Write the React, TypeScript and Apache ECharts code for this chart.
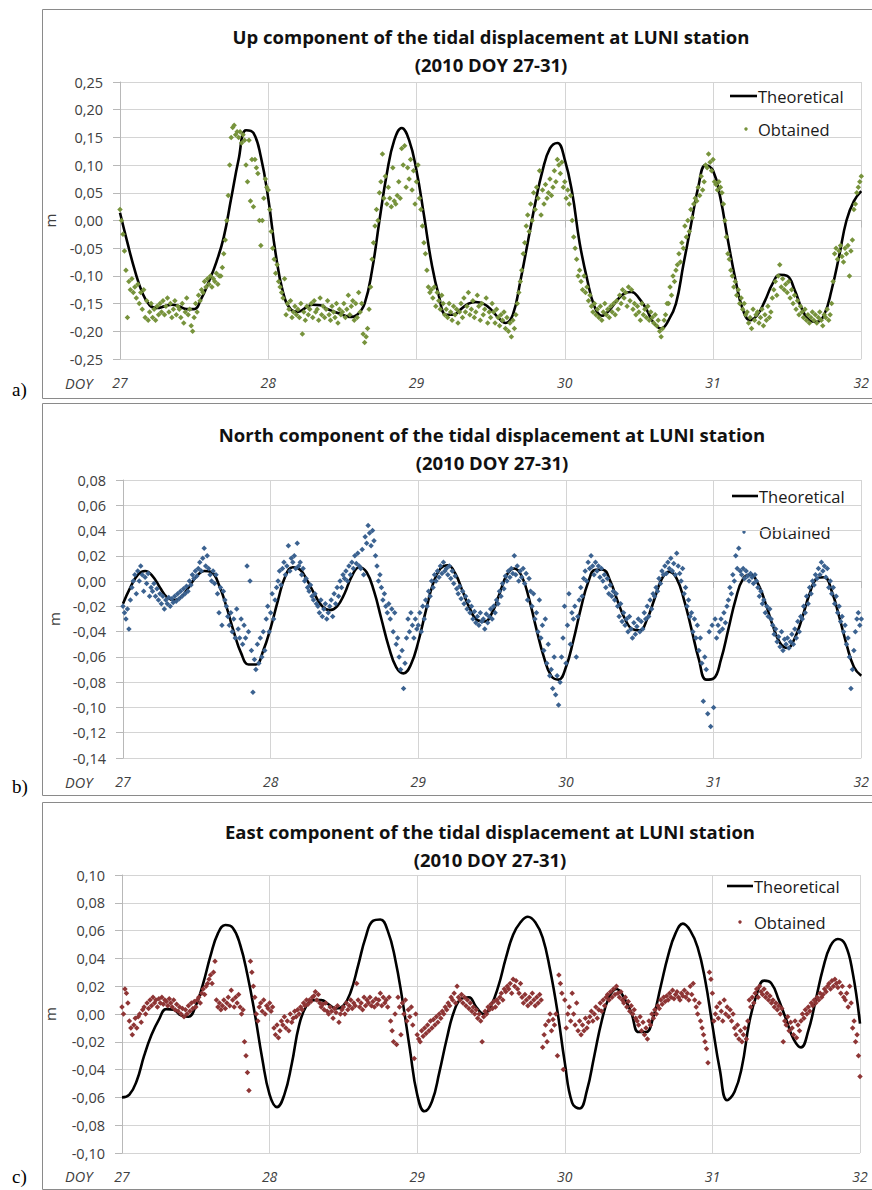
import React, { useEffect, useRef } from 'react';
import * as echarts from 'echarts';

// ---------------- DATA ----------------
const START_DAY = 27;
const DAY_TICKS = [27, 28, 29, 30, 31, 32];
const SUBTITLE = '(2010 DOY 27-31)';
const THEO_STEP = 0.05; // theoretical curve sampled every 0.05 day (m)
const OBT_STEP = 0.01; // obtained values every 0.01 day (mm)

const UP_THEORETICAL = [
  0.014, -0.04, -0.09, -0.13, -0.153, -0.158, -0.155, -0.152, -0.155, -0.16,
  -0.16, -0.14, -0.11, -0.075, -0.03, 0.04, 0.11, 0.163, 0.158, 0.115,
  0.04, -0.06, -0.13, -0.16, -0.165, -0.158, -0.152, -0.153, -0.16, -0.165,
  -0.17, -0.174, -0.17, -0.15, -0.09, 0.0, 0.085, 0.145, 0.167, 0.145,
  0.09, 0.01, -0.075, -0.135, -0.17, -0.17, -0.16, -0.15, -0.147, -0.15,
  -0.16, -0.175, -0.185, -0.17, -0.11, -0.04, 0.03, 0.09, 0.13, 0.14,
  0.11, 0.05, -0.04, -0.105, -0.155, -0.172, -0.162, -0.145, -0.132, -0.129,
  -0.14, -0.16, -0.185, -0.195, -0.18, -0.15, -0.08, -0.01, 0.06, 0.1,
  0.09, 0.04, -0.035, -0.105, -0.16, -0.18, -0.17, -0.145, -0.115, -0.098,
  -0.1, -0.125, -0.16, -0.18, -0.183, -0.17, -0.125, -0.065, 0.0, 0.035,
  0.053,
];

const UP_OBTAINED_MM = [
  20, 0, -25, -55, -90, -175, -110, -125, -105, -130,
  -120, -140, -115, -150, -130, -160, -125, -175, -145, -180,
  -165, -150, -175, -160, -180, -155, -170, -150, -165, -145,
  -170, -155, -140, -165, -150, -175, -160, -145, -170, -155,
  -160, -175, -150, -185, -165, -140, -170, -160, -190, -200,
  -175, -150, -165, -135, -145, -125, -130, -110, -120, -105,
  -115, -100, -120, -105, -110, -95, -115, -100, -100, -85,
  -60, -35, 0, 45, 100, 150, 168, 172, 155, 160,
  150, 160, 140, 155, 145, 100, 70, 145, 35, 110,
  25, 110, 95, 85, 0, -45, 0, 40, 75, 60,
  55, 20, -20, -50, -70, -95, -80, -110, -120, -130,
  -140, -105, -170, -150, -160, -145, -175, -165, -155, -170,
  -160, -175, -150, -205, -165, -180, -155, -170, -160, -150,
  -175, -145, -165, -160, -180, -140, -170, -155, -175, -160,
  -145, -170, -180, -155, -165, -175, -150, -185, -160, -170,
  -165, -150, -175, -160, -135, -170, -155, -145, -180, -150,
  -175, -130, -165, -150, -205, -220, -210, -195, -160, -120,
  -70, -40, -10, 20, 0, 50, 70, 120, 40, 80,
  30, 60, 40, 25, 95, 35, 30, 45, 70, 40,
  130, 100, 135, 60, 95, 75, 110, 55, 90, 30,
  70, 100, 40, 20, -10, -40, -60, -90, -120, -130,
  -125, -140, -120, -155, -130, -145, -160, -135, -150, -170,
  -160, -175, -150, -165, -180, -155, -170, -160, -185, -165,
  -150, -175, -140, -165, -155, -130, -170, -160, -145, -175,
  -165, -135, -155, -180, -150, -170, -160, -140, -185, -165,
  -175, -150, -165, -185, -160, -175, -190, -170, -180, -165,
  -195, -175, -200, -185, -210, -180, -195, -170, -150, -130,
  -110, -90, -60, -40, -10, 10, -20, 30, 0, 50,
  20, 60, 40, 90, 10, 55, 30, 65, 40, 50,
  75, 45, 60, 90, 70, 110, 100, 85, 105, 60,
  70, 40, 55, 30, 45, 0, -30, -50, -70, -100,
  -90, -110, -125, -100, -130, -120, -145, -135, -155, -165,
  -150, -170, -160, -175, -155, -180, -165, -150, -170, -160,
  -175, -155, -165, -150, -170, -145, -160, -135, -150, -125,
  -140, -130, -155, -120, -145, -125, -160, -150, -170, -155,
  -165, -180, -150, -170, -160, -175, -155, -180, -165, -175,
  -185, -170, -190, -180, -200, -210, -195, -180, -170, -150,
  -150, -120, -135, -100, -110, -90, -80, -60, -75, -40,
  -50, -10, -30, 0, -20, 20, 5, 30, 40, 35,
  60, 45, 80, 55, 70, 100, 95, 120, 105, 90,
  110, 70, 65, 55, 70, 60, 50, 30, 0, -30,
  -60, -70, -90, -100, -120, -110, -135, -125, -150, -140,
  -160, -150, -170, -165, -185, -175, -195, -160, -180, -170,
  -165, -185, -175, -160, -190, -170, -180, -155, -175, -165,
  -140, -125, -110, -135, -100, -80, -120, -105, -125, -115,
  -130, -110, -140, -125, -150, -135, -160, -145, -170, -155,
  -165, -175, -160, -180, -170, -185, -175, -165, -180, -170,
  -185, -175, -165, -180, -190, -170, -175, -160, -180, -170,
  -150, -110, -60, -50, -70, -55, -45, -65, -75, -50,
  -60, -45, -100, -55, -35, 20, 30, 50, 60, 70,
  80,
];

const NORTH_THEORETICAL = [
  -0.018, -0.005, 0.005, 0.008, 0.004, -0.005, -0.013, -0.015, -0.012, -0.004,
  0.004, 0.008, 0.007, -0.003, -0.02, -0.04, -0.057, -0.066, -0.066, -0.055,
  -0.037, -0.015, 0.004, 0.011, 0.009, 0.0, -0.011, -0.02, -0.023, -0.02,
  -0.01, 0.004, 0.011, 0.007, -0.008, -0.03, -0.052, -0.068, -0.073, -0.066,
  -0.048, -0.024, -0.002, 0.01, 0.0125, 0.006, -0.008, -0.022, -0.031, -0.032,
  -0.025, -0.01, 0.005, 0.01, 0.004, -0.014, -0.038, -0.06, -0.075, -0.078,
  -0.068, -0.047, -0.022, -0.001, 0.009, 0.009, 0.0, -0.016, -0.03, -0.038,
  -0.039, -0.03, -0.014, 0.002, 0.0075, 0.002, -0.015, -0.038, -0.062, -0.078,
  -0.077, -0.062, -0.038, -0.014, 0.002, 0.005, -0.002, -0.017, -0.035, -0.049,
  -0.053, -0.045, -0.029, -0.01, 0.002, 0.003, -0.008, -0.028, -0.05, -0.068,
  -0.075,
];

const NORTH_OBTAINED_MM = [
  -20, -25, -30, -22, -38, -15, -5, 0, 5, -10,
  8, 0, 12, 5, -8, 3, -2, 6, -12, -5,
  -8, -2, -12, -6, -15, -10, -18, -12, -22, -15,
  -18, -13, -20, -14, -17, -12, -16, -10, -14, -8,
  -12, -6, -10, -4, -8, 0, -3, 5, 2, 8,
  4, 10, 15, 8, 18, 26, 12, 20, 10, 5,
  0, 8, -2, 5, -10, -25, -5, -35, -8, -15,
  -20, -28, -35, -25, -40, -30, -45, -22, -38, -45,
  -30, -50, -35, -45, 12, -40, 0, -55, -88, -62,
  -70, -50, -65, -45, -60, -40, -55, -30, -20, -40,
  -25, -10, -30, -15, -5, 0, 8, -3, 10, 15,
  5, 12, 28, 8, 18, 15, 20, 10, 30, 12,
  15, 5, 10, 0, 2, -5, -8, -3, -12, -15,
  -10, -18, -20, -25, -15, -28, -22, -18, -30, -25,
  -20, -15, -28, -10, -18, -5, -12, 0, -5, 5,
  2, 8, 0, 12, 5, 15, 10, 20, 14, 22,
  12, 10, 25, 5, 35, 30, 44, 38, 28, 40,
  32, 20, 12, 0, 5, -5, -15, -10, -20, -25,
  -18, -30, -22, -40, -25, -50, -45, -60, -70, -55,
  -85, -65, -45, -30, -40, -25, -35, -45, -30, -38,
  -35, -25, -40, -20, -30, -15, -20, -8, -12, 0,
  -5, 5, 0, 8, 3, 12, 6, 15, 8, 10,
  5, 12, 2, 8, -2, 4, -6, -10, -4, -14,
  -8, -18, -12, -22, -16, -25, -20, -30, -24, -33,
  -28, -35, -25, -32, -30, -38, -26, -33, -28, -22,
  -30, -20, -25, -15, -18, -8, -12, -2, -6, 4,
  0, 8, 3, 10, 6, 20, 5, 12, 0, 8,
  3, 10, -2, 6, -15, 2, -8, -20, -10, -30,
  -25, -40, -15, -45, -35, -55, -30, -65, -50, -75,
  -70, -85, -60, -90, -75, -98, -80, -60, -45, -20,
  -65, -35, -10, -50, -25, -30, -20, -60, -28, -15,
  -5, -12, 2, 8, 0, 15, 10, 20, 12, 5,
  15, 8, 12, 3, 10, 0, 5, -5, 2, -10,
  -3, -12, -8, -15, -10, -20, -28, -18, -32, -25,
  -35, -30, -40, -28, -38, -45, -33, -42, -36, -30,
  -40, -32, -38, -25, -30, -20, -28, -15, -22, -10,
  -12, -5, -8, 2, -2, 8, 5, 12, 6, 15,
  10, 18, 8, 14, 5, 22, 12, 6, 0, 10,
  -10, -5, -20, -15, -28, -25, -40, -30, -45, -35,
  -55, -45, -65, -95, -60, -70, -105, -40, -115, -35,
  -100, -30, -45, -35, -40, -30, -38, -25, -33, -20,
  -15, -5, -10, 5, 0, 20, 10, 26, 8, 5,
  10, 2, 8, 4, 0, 6, 3, -2, 5, 0,
  -5, -12, -8, -18, -15, -25, -20, -28, -22, -30,
  -35, -42, -38, -48, -44, -52, -40, -55, -46, -50,
  -45, -53, -48, -42, -50, -38, -45, -32, -40, -28,
  -30, -20, -25, -12, -18, -5, -10, 0, -3, 5,
  2, 10, 5, 15, 8, 12, 3, 10, -5, 0,
  -10, -5, -18, -12, -25, -20, -32, -28, -40, -35,
  -50, -45, -60, -85, -70, -55, -40, -30, -25, -35,
  -30,
];

const EAST_THEORETICAL = [
  -0.06, -0.058, -0.048, -0.03, -0.015, -0.004, 0.0035, 0.003, -0.001, -0.002,
  0.006, 0.022, 0.042, 0.058, 0.064, 0.062, 0.05, 0.028, 0.0, -0.032,
  -0.058, -0.067, -0.058, -0.036, -0.008, 0.006, 0.01, 0.01, 0.007, 0.004,
  0.006, 0.016, 0.035, 0.055, 0.067, 0.068, 0.06, 0.04, 0.01, -0.025,
  -0.058, -0.07, -0.063, -0.042, -0.018, 0.002, 0.011, 0.012, 0.005, 0.0,
  0.006, 0.02, 0.04, 0.057, 0.066, 0.07, 0.066, 0.055, 0.032, 0.002,
  -0.035, -0.064, -0.068, -0.055, -0.03, -0.005, 0.012, 0.018, 0.012, 0.001,
  -0.013, -0.013, -0.002, 0.02, 0.042, 0.058, 0.065, 0.06, 0.048, 0.025,
  -0.008, -0.04, -0.062, -0.056, -0.038, -0.006, 0.014, 0.024, 0.022, 0.01,
  -0.004, -0.018, -0.024, -0.012, 0.01, 0.033, 0.049, 0.054, 0.05, 0.03,
  -0.007,
];

const EAST_OBTAINED_MM = [
  5, 0, 18, 15, 8, -5, -10, -15, -8, -3,
  -10, -2, 0, -6, 3, 5, 0, 8, 4, 10,
  6, 12, 8, 10, 5, 11, 8, 12, 7, 10,
  9, 6, 11, 8, 5, 10, 3, 7, 2, 5,
  0, 4, -2, 3, 0, 6, 2, 8, 4, 9,
  5, 10, 12, 8, 15, 18, 14, 20, 22, 25,
  28, 22, 30, 38, 10, 5, 8, 3, 6, 10,
  4, 8, 12, 6, 17, 10, 5, 12, 8, 14,
  5, 0, 3, -20, -30, -42, -55, 38, 30, 20,
  12, 0, -5, 5, 8, 2, 10, 0, 6, 4,
  8, 2, 5, -10, -15, -8, -17, -12, -5, -8,
  -2, -10, -5, -12, 0, -6, -3, 2, -2, 3,
  0, 5, 3, 8, 6, 10, 7, 10, 9, 12,
  13, 16, 10, 14, 8, 5, 7, 3, 8, 2,
  0, 5, 2, -3, 4, 1, 6, -6, 0, 3,
  5, 0, 8, 3, 6, 10, 4, 8, 6, 22,
  10, 5, 8, 3, 12, 6, 10, 8, 12, 6,
  9, 5, 11, 7, 10, 15, 6, 12, 8, 10,
  5, 12, -5, -12, -20, 0, -22, 12, 5, -15,
  8, 0, 10, -5, 3, -2, 5, -8, -32, 0,
  -15, -18, -20, -12, -16, -10, -14, -8, -12, -5,
  -10, -4, -8, -2, -6, 0, -3, 2, 0, 5,
  3, 8, 6, 12, 10, 15, 8, 20, 12, 10,
  14, 8, 12, 6, 10, 4, 8, 2, 5, 0,
  3, -3, 0, -5, -20, -2, 2, 0, 5, 3,
  7, 4, 9, 5, 10, 8, 12, 15, 10, 18,
  16, 20, 18, 22, 15, 25, 20, 24, 18, 15,
  22, 12, 8, 14, 10, 6, 12, 8, 15, 10,
  6, 12, 8, 14, 10, -24, -15, -8, -20, -5,
  0, -12, -4, -8, 0, -30, 28, 22, 15, -40,
  10, -10, 0, 5, -5, 15, 0, -8, 8, -12,
  -5, -15, -8, -12, -3, -10, -6, -2, 2, -5,
  0, 5, -3, 3, 8, 2, 10, 6, 12, 14,
  10, 16, 12, 18, 14, 20, 15, 12, 16, 10,
  8, 12, 5, 9, 2, 6, 0, 3, -3, -5,
  -8, -2, -12, -6, -15, -10, -18, -5, -8, 0,
  -3, 3, 0, 6, 4, 10, 7, 12, 9, 13,
  10, 15, 12, 17, 11, 14, 16, 12, 10, 15,
  13, 17, 12, 15, 10, 20, 14, 22, 10, 5,
  0, 8, -5, -10, -15, -20, -25, -35, 30, 25,
  15, -5, 0, 5, -3, 8, 2, -5, 10, 0,
  5, -2, 3, -5, 0, -10, -15, -8, -18, -12,
  -20, -15, -10, -18, -5, 10, 5, 12, 8, 15,
  18, 12, 20, 16, 14, 18, 12, 15, 10, 13,
  8, 10, 5, 8, 3, 6, 0, 4, -20, -5,
  -8, -2, -12, -6, -10, -15, -5, -17, -8, -12,
  -5, 0, -3, 3, 0, 5, 2, 8, 6, 10,
  8, 12, 10, 15, 12, 14, 18, 16, 20, 22,
  18, 24, 20, 25, 22, 19, 23, 15, 20, 12,
  10, 15, 5, 20, 8, -10, -5, -20, -15, -30,
  -45,
];

// ---------------- LAYOUT ----------------
const PANELS = [
  {
    title: 'Up component of the tidal displacement at LUNI station',
    theo: UP_THEORETICAL, obt: UP_OBTAINED_MM, color: '#77933C',
    min: -0.25, max: 0.25, interval: 0.05,
    grid: { left: 120, top: 82, width: 744, height: 277 },
    titleX: 491, titleTop: 22, frameTop: 9.5, frameBottom: 398.5,
    letter: 'a)', letterY: 389, doyY: 383, nameGap: 63,
    legLine: [730, 757], legText: 758, legDot: 746, legY1: 96, legY2: 129,
  },
  {
    title: 'North component of the tidal displacement at LUNI station',
    theo: NORTH_THEORETICAL, obt: NORTH_OBTAINED_MM, color: '#3B6290',
    min: -0.14, max: 0.08, interval: 0.02,
    grid: { left: 123, top: 480, width: 740, height: 278 },
    titleX: 492, titleTop: 420, frameTop: 403.5, frameBottom: 795.5,
    letter: 'b)', letterY: 786, doyY: 782, nameGap: 61,
    legLine: [732, 758], legText: 759, legDot: 744, legY1: 496, legY2: 532,
  },
  {
    title: 'East component of the tidal displacement at LUNI station',
    theo: EAST_THEORETICAL, obt: EAST_OBTAINED_MM, color: '#8E3535',
    min: -0.1, max: 0.1, interval: 0.02,
    grid: { left: 122, top: 875, width: 738, height: 278 },
    titleX: 490, titleTop: 817, frameTop: 802.5, frameBottom: 1189.5,
    letter: 'c)', letterY: 1176, doyY: 1176, nameGap: 65,
    legLine: [727, 753], legText: 754, legDot: 740, legY1: 886, legY2: 922,
  },
];

const FONT = '"Open Sans"';
const TEXT_GRAY = '#404040';
const GRID_GRAY = '#d4d4d4';
const AXIS_GRAY = '#b8b8b8';

const fmtComma = (v: number) => {
  if (Math.abs(v) < 1e-9) return '0,00';
  return v.toFixed(2).replace('.', ',');
};

function buildOption() {
  const grid: any[] = [];
  const xAxis: any[] = [];
  const yAxis: any[] = [];
  const series: any[] = [];
  const title: any[] = [];
  const graphic: any[] = [];

  PANELS.forEach((p, i) => {
    grid.push({ ...p.grid, containLabel: false });
    xAxis.push({
      type: 'value', gridIndex: i, min: DAY_TICKS[0], max: DAY_TICKS[DAY_TICKS.length - 1], interval: 1,
      axisLine: { show: true, lineStyle: { color: AXIS_GRAY, width: 1 } },
      axisTick: { show: true, inside: false, length: 7, lineStyle: { color: AXIS_GRAY } },
      splitLine: { show: true, lineStyle: { color: GRID_GRAY, width: 1 } },
      axisLabel: {
        show: true, margin: 16, fontFamily: FONT, fontStyle: 'italic', fontSize: 14, color: TEXT_GRAY,
        showMinLabel: true, showMaxLabel: true,
      },
    });
    yAxis.push({
      type: 'value', gridIndex: i, min: p.min, max: p.max, interval: p.interval,
      name: 'm', nameLocation: 'middle', nameGap: p.nameGap,
      nameTextStyle: { fontFamily: FONT, fontSize: 15, color: TEXT_GRAY },
      axisLine: { show: true, onZero: false, lineStyle: { color: AXIS_GRAY, width: 1 } },
      axisTick: { show: true, inside: false, length: 7, lineStyle: { color: AXIS_GRAY } },
      splitLine: { show: true, lineStyle: { color: GRID_GRAY, width: 1 } },
      axisLabel: { margin: 17, fontFamily: FONT, fontSize: 14.5, color: TEXT_GRAY, formatter: fmtComma },
    });
    series.push({
      name: 'Theoretical', type: 'line', xAxisIndex: i, yAxisIndex: i,
      data: p.theo.map((v, k) => [START_DAY + k * THEO_STEP, v]),
      showSymbol: false, symbol: 'none', smooth: 0.45,
      lineStyle: { color: '#000', width: 2.6 }, z: 2, silent: true,
    });
    series.push({
      name: 'Obtained', type: 'scatter', xAxisIndex: i, yAxisIndex: i,
      data: p.obt.map((v, k) => [START_DAY + k * OBT_STEP, v / 1000]),
      symbol: 'diamond', symbolSize: 5.5,
      itemStyle: { color: p.color, opacity: 1 }, z: 3, silent: true,
    });
    title.push({
      text: p.title + '\n' + SUBTITLE, left: p.titleX, top: p.titleTop, textAlign: 'center', padding: 0,
      textStyle: { fontFamily: FONT, fontWeight: 'bold', fontSize: 18.5, lineHeight: 28, color: '#111' },
    });

    graphic.push({
      type: 'rect', silent: true, z: -10,
      shape: { x: 42.5, y: p.frameTop, width: 845, height: p.frameBottom - p.frameTop },
      style: { fill: 'none', stroke: '#8a8a8a', lineWidth: 1 },
    });
    graphic.push({
      type: 'text', x: 12, y: p.letterY, silent: true,
      style: { text: p.letter, font: '19px "Liberation Serif"', fill: '#000', textVerticalAlign: 'middle' },
    });
    graphic.push({
      type: 'text', x: 65, y: p.doyY, silent: true,
      style: { text: 'DOY', font: `italic 14.5px ${FONT}`, fill: TEXT_GRAY, textVerticalAlign: 'middle' },
    });
    graphic.push({
      type: 'line', silent: true,
      shape: { x1: p.legLine[0], y1: p.legY1, x2: p.legLine[1], y2: p.legY1 },
      style: { stroke: '#000', lineWidth: 2.6 },
    });
    graphic.push({
      type: 'text', x: p.legText, y: p.legY1, silent: true,
      style: { text: 'Theoretical', font: `16.5px ${FONT}`, fill: '#1a1a1a', textVerticalAlign: 'middle' },
    });
    graphic.push({
      type: 'circle', silent: true,
      shape: { cx: p.legDot, cy: p.legY2, r: 1.7 },
      style: { fill: p.color },
    });
    graphic.push({
      type: 'text', x: p.legText, y: p.legY2, silent: true,
      style: { text: 'Obtained', font: `16.5px ${FONT}`, fill: '#1a1a1a', textVerticalAlign: 'middle' },
    });
  });

  return {
    animation: false,
    backgroundColor: '#ffffff',
    title, grid, xAxis, yAxis, series, graphic,
  };
}

export default function App() {
  const ref = useRef<HTMLDivElement | null>(null);
  useEffect(() => {
    if (!ref.current) return;
    const chart = echarts.init(ref.current, undefined, { renderer: 'svg' });
    chart.setOption(buildOption() as any);
    return () => chart.dispose();
  }, []);
  return (
    <div
      ref={ref}
      style={{ position: 'absolute', left: 0, top: 0, width: 872, height: 1190, background: '#fff' }}
    />
  );
}
